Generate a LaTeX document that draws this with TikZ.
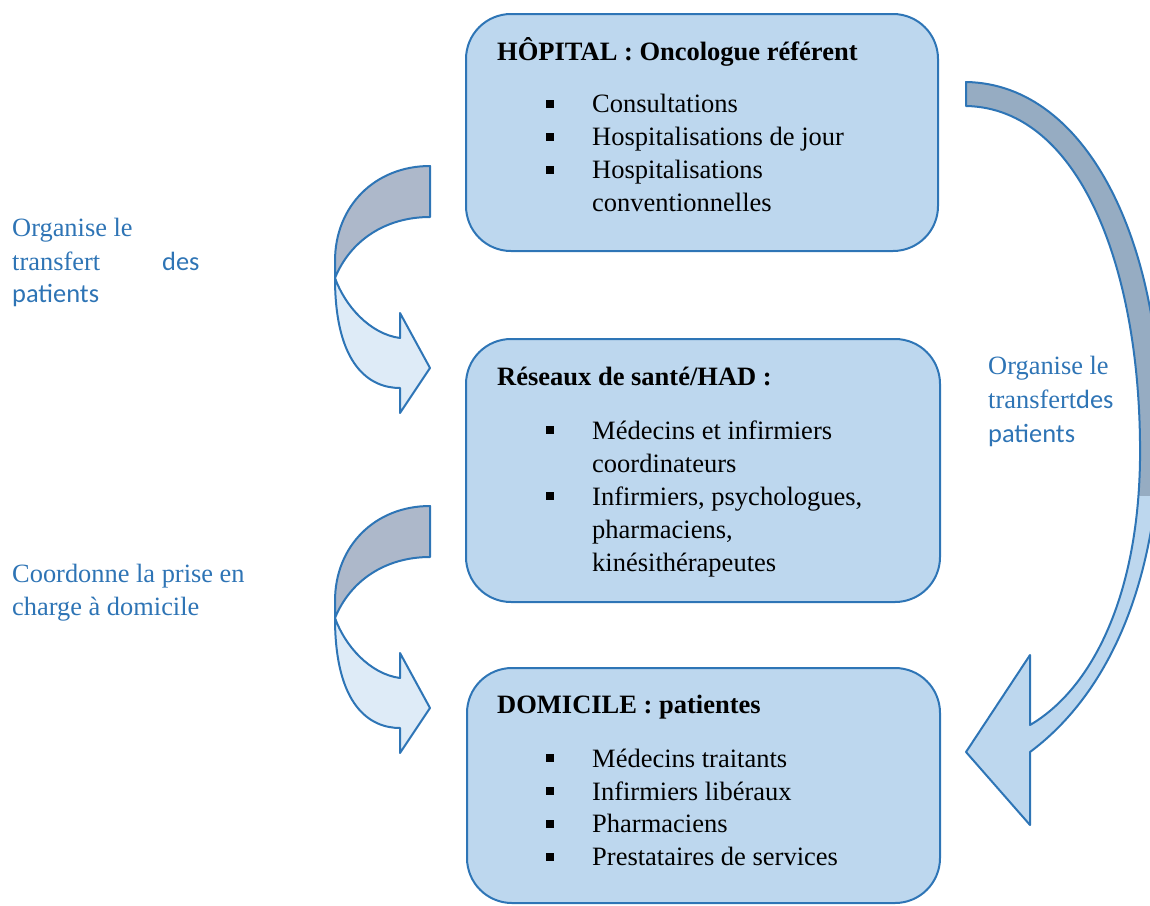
\documentclass[tikz,border=0pt]{standalone}
\usepackage{fontspec}
\setmainfont{Liberation Serif}
\newfontfamily\calib{Carlito}
\usepackage{xcolor}
\usetikzlibrary{positioning}

\definecolor{bordbleu}{RGB}{46,117,182}
\definecolor{fondbleu}{RGB}{189,215,238}
\definecolor{texteb}{RGB}{46,116,181}
\definecolor{grisbleu}{RGB}{173,184,202}
\definecolor{pale}{RGB}{222,235,247}
\definecolor{ardoise}{RGB}{150,172,194}

\tikzstyle{bloc} = [draw=bordbleu, fill=fondbleu, line width=2pt, rounded corners=45pt, inner sep=0]
\tikzstyle{titre} = [anchor=base west, inner sep=0, font=\fontsize{26.5}{33}\selectfont\bfseries]
\tikzstyle{ligne} = [anchor=base west, inner sep=0, font=\fontsize{26.5}{33}\selectfont]
\tikzstyle{legende} = [anchor=base west, inner sep=0, text=texteb, font=\fontsize{26.4}{33}\selectfont]
\tikzstyle{bande} = [draw=bordbleu, line width=2pt, line join=round]

\newcommand{\puce}{\makebox[46pt][l]{\rule[5pt]{8pt}{8pt}}}
% curved arrow on the left, origin = top right corner
\newcommand{\flechecourbe}[1]{%
  \begin{scope}[shift={(#1)}]
    \draw [bande, fill=pale] (-95,112) .. controls (-95,200) and (-60,222) .. (-30,222)
      -- (-30,247) -- (0,202) -- (-30,147) -- (-30,172)
      .. controls (-60,168) and (-85,140) .. (-95,112) -- cycle;
    \draw [bande, fill=grisbleu] (0,0) .. controls (-55,0) and (-95,40) .. (-95,95)
      -- (-95,112) .. controls (-80,75) and (-45,51) .. (0,51) -- cycle;
  \end{scope}}

\begin{document}
\begin{tikzpicture}[x=1pt, y=-1pt]
\useasboundingbox (0,0) rectangle (1150,905);

% Place boxes
\node [bloc, minimum width=472pt, minimum height=237pt] (hopital) at (702,132.5) {};
\node [bloc, minimum width=474pt, minimum height=263pt] (reseaux) at (703,470.5) {};
\node [bloc, minimum width=473pt, minimum height=235pt] (domicile) at (703.5,785.5) {};

% Box texts
\node [titre] (t1) at (497,60) {HÔPITAL : Oncologue référent};
\node [ligne] (h1) at (546,112.7) {\puce Consultations};
\node [ligne] (h2) at (546,145.7) {\puce Hospitalisations de jour};
\node [ligne] (h3) at (546,178.7) {\puce Hospitalisations};
\node [ligne] (h4) at (592,211.7) {conventionnelles};

\node [titre] (t2) at (497,385.7) {Réseaux de santé/HAD :};
\node [ligne] (r1) at (546,439) {\puce Médecins et infirmiers};
\node [ligne] (r2) at (592,472) {coordinateurs};
\node [ligne] (r3) at (546,505) {\puce Infirmiers, psychologues,};
\node [ligne] (r4) at (592,538) {pharmaciens,};
\node [ligne] (r5) at (592,571) {kinésithérapeutes};

\node [titre] (t3) at (497,713) {DOMICILE : patientes};
\node [ligne] (d1) at (546,767) {\puce Médecins traitants};
\node [ligne] (d2) at (546,800) {\puce Infirmiers libéraux};
\node [ligne] (d3) at (546,832.7) {\puce Pharmaciens};
\node [ligne] (d4) at (546,865.7) {\puce Prestataires de services};

% Labels
\node [legende] (g1) at (12,236) {Organise le};
\node [legende] (g2) at (12,270) {\makebox[150pt][l]{transfert}{\calib des}};
\node [legende] (g3) at (12,302) {\calib patients};
\node [legende] (g4) at (12,582) {Coordonne la prise en};
\node [legende] (g5) at (12,615) {charge à domicile};
\node [legende] (g6) at (988,374) {Organise le};
\node [legende] (g7) at (988,408) {transfert{\calib des}};
\node [legende] (g8) at (988,442) {\calib patients};

% Curved arrows
\coordinate (fl1) at (430,166);
\coordinate (fl2) at (430,506);
\flechecourbe{fl1}
\flechecourbe{fl2}

% Right arrow
\coordinate (dep) at (966,82);
\coordinate (pointe) at (966,752);
\fill [fondbleu] (dep) .. controls (1090,84) and (1165,250) .. (1160,440)
  .. controls (1155,600) and (1100,700) .. (1030,752) -- (1030,825) -- (pointe)
  -- (1030,655) -- (1030,725) .. controls (1090,690) and (1138,600) .. (1140,460)
  .. controls (1142,270) and (1080,108) .. (966,106) -- cycle;
\begin{scope}
  \clip (900,0) rectangle (1200,495);
  \fill [ardoise] (dep) .. controls (1090,84) and (1165,250) .. (1160,440)
    .. controls (1155,600) and (1100,700) .. (1030,752) -- (1030,725)
    .. controls (1090,690) and (1138,600) .. (1140,460)
    .. controls (1142,270) and (1080,108) .. (966,106) -- cycle;
\end{scope}
\draw [bande] (dep) .. controls (1090,84) and (1165,250) .. (1160,440)
  .. controls (1155,600) and (1100,700) .. (1030,752) -- (1030,825) -- (pointe)
  -- (1030,655) -- (1030,725) .. controls (1090,690) and (1138,600) .. (1140,460)
  .. controls (1142,270) and (1080,108) .. (966,106) -- cycle;

\end{tikzpicture}
\end{document}
